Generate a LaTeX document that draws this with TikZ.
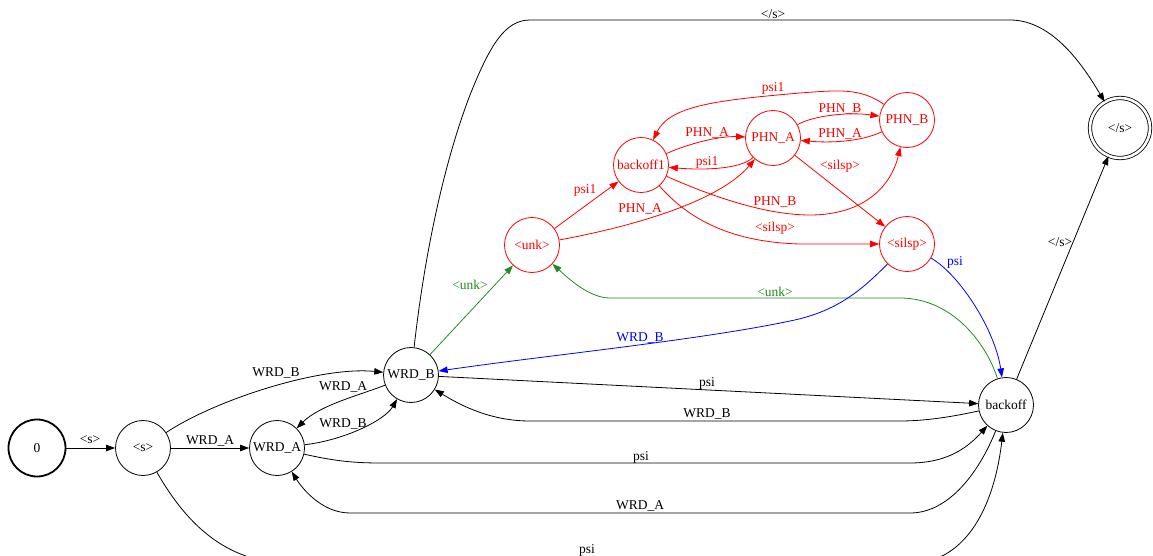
\documentclass[tikz,border=0pt]{standalone}
\usepackage{fontspec}
\setmainfont{Liberation Serif}
\usetikzlibrary{arrows.meta}
\definecolor{gvred}{HTML}{FF0000}
\definecolor{gvgreen}{HTML}{228B22}
\definecolor{gvblue}{HTML}{0000FF}
\tikzset{
  st/.style={circle, draw, minimum size=55pt, inner sep=0pt, line width=0.8pt, font=\fontsize{13.5}{15}\selectfont},
  redst/.style={st, draw=gvred, text=gvred},
  startst/.style={st, line width=1.8pt, minimum size=57pt},
  finst/.style={st, double, double distance=2.6pt, minimum size=60pt},
  edge/.style={line width=0.8pt, -{Triangle[length=9pt,width=6.5pt]}},
  rededge/.style={edge, draw=gvred, -{Triangle[length=9pt,width=6.5pt,fill=gvred]}},
  greenedge/.style={edge, draw=gvgreen},
  blueedge/.style={edge, draw=gvblue},
  lbl/.style={inner sep=0pt, font=\fontsize{13.5}{15}\selectfont},
  rlbl/.style={lbl, text=gvred},
  glbl/.style={lbl, text=gvgreen},
  blbl/.style={lbl, text=gvblue}
}
\begin{document}
\begin{tikzpicture}[x=1pt, y=-1pt]
\useasboundingbox (0,0) rectangle (1153,556);
% states
\node[startst] (n0) at (37,448) {0};
\node[st] (s) at (143,448) {<s>};
\node[st] (wa) at (277,448) {WRD\_A};
\node[st] (wb) at (411,375) {WRD\_B};
\node[st] (bo) at (1006,405) {backoff};
\node[finst] (fin) at (1120,128) {</s>};
\node[redst] (unk) at (532,245) {<unk>};
\node[redst] (bo1) at (641,165) {backoff1};
\node[redst] (pa) at (773,138) {PHN\_A};
\node[redst] (pb) at (907,120) {PHN\_B};
\node[redst] (sil) at (907,244) {<silsp>};

% black edges
\draw[edge] (n0) -- (s) node[lbl] at (90,440) {<s>};
\draw[edge] (s) -- (wa) node[lbl] at (210,441) {WRD\_A};
\draw[edge] (s) .. controls (215,400) and (320,366) .. (wb) node[lbl] at (276,373) {WRD\_B};
\draw[edge] (wb) .. controls (360,395) and (320,405) .. (wa) node[lbl] at (343,387) {WRD\_A};
\draw[edge] (wa) .. controls (345,440) and (385,420) .. (wb) node[lbl] at (343,424) {WRD\_B};
\draw[edge] (wb) -- (bo) node[lbl] at (707,383) {psi};
\draw[edge] (bo) .. controls (960,415) and (930,421) .. (900,421) -- (530,421)
  .. controls (490,421) and (460,405) .. (wb) node[lbl] at (707,414) {WRD\_B};
\draw[edge] (wa) .. controls (330,460) and (350,463) .. (380,463) -- (910,463)
  .. controls (950,463) and (970,445) .. (bo) node[lbl] at (641,457) {psi};
\draw[edge] (bo) .. controls (980,470) and (950,513) .. (910,513) -- (350,513)
  .. controls (320,513) and (300,485) .. (wa) node[lbl] at (640,506) {WRD\_A};
\draw[edge] (s) .. controls (190,530) and (230,562) .. (290,564) -- (910,564)
  .. controls (970,562) and (995,500) .. (bo) node[lbl] at (587,550) {psi};
\draw[edge] (wb) .. controls (425,250) and (445,160) .. (470,95)
  .. controls (490,45) and (505,20) .. (530,20) -- (1010,20)
  .. controls (1050,20) and (1080,60) .. (fin) node[lbl] at (773,14) {</s>};
\draw[edge] (bo) -- (fin) node[lbl] at (1060,242) {</s>};

% green edges
\draw[greenedge] (wb) -- (unk) node[glbl] at (470,285) {<unk>};
\draw[greenedge] (bo) .. controls (985,340) and (950,298) .. (900,298) -- (610,298)
  .. controls (590,298) and (570,280) .. (unk) node[glbl] at (775,292) {<unk>};

% blue edges
\draw[blueedge] (sil) .. controls (860,292) and (835,312) .. (790,321)
  .. controls (700,340) and (550,355) .. (wb) node[blbl] at (640,338) {WRD\_B};
\draw[blueedge] (sil) .. controls (960,275) and (995,330) .. (bo) node[blbl] at (955,262) {psi};

% red edges
\draw[rededge] (unk) -- (bo1) node[rlbl] at (585,190) {psi1};
\draw[rededge] (unk) .. controls (640,225) and (720,200) .. (pa) node[rlbl] at (640,209) {PHN\_A};
\draw[rededge] (bo1) .. controls (690,143) and (720,136) .. (pa) node[rlbl] at (707,133) {PHN\_A};
\draw[rededge] (pa) .. controls (740,170) and (700,170) .. (bo1) node[rlbl] at (707,162) {psi1};
\draw[rededge] (pa) .. controls (815,115) and (850,112) .. (pb) node[rlbl] at (840,109) {PHN\_B};
\draw[rededge] (pb) .. controls (860,142) and (830,143) .. (pa) node[rlbl] at (840,134) {PHN\_A};
\draw[rededge] (pb) .. controls (860,88) and (840,90) .. (800,93)
  .. controls (720,100) and (670,105) .. (bo1) node[rlbl] at (773,88) {psi1};
\draw[rededge] (pa) -- (sil) node[rlbl] at (840,166) {<silsp>};
\draw[rededge] (bo1) .. controls (720,200) and (770,215) .. (810,215)
  .. controls (860,215) and (890,190) .. (pb) node[rlbl] at (775,202) {PHN\_B};
\draw[rededge] (bo1) .. controls (685,215) and (725,242) .. (800,244) -- (sil) node[rlbl] at (775,228) {<silsp>};
\end{tikzpicture}
\end{document}
